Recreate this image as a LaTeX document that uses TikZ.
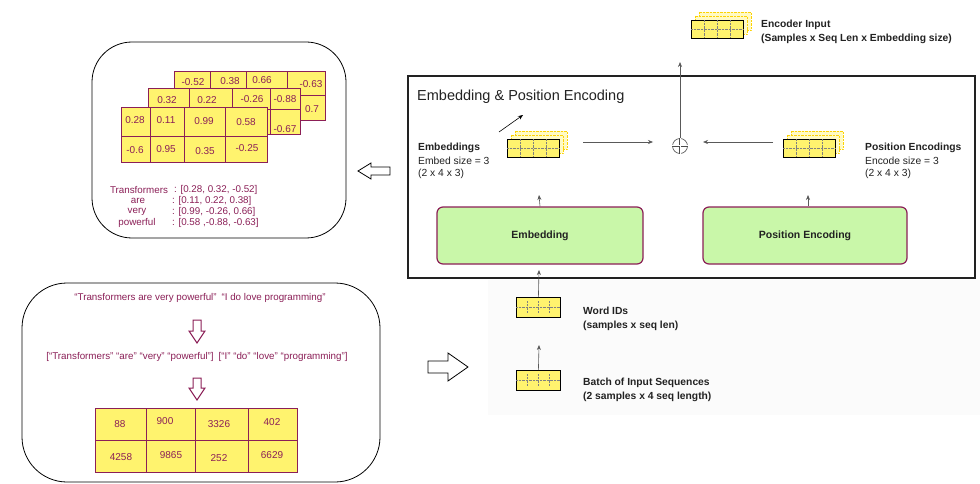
\documentclass[tikz,border=0pt]{standalone}
\usepackage{fontspec}
\setmainfont{Liberation Sans}
\usetikzlibrary{shapes.arrows,arrows.meta}
\definecolor{plum}{HTML}{8B1F57}
\definecolor{cellY}{HTML}{FFF36E}
\definecolor{grn}{HTML}{C9F7A9}
\definecolor{txt}{HTML}{222222}
\begin{document}
\begin{tikzpicture}[x=1pt,y=-1pt,
  cell/.style={draw=plum,fill=cellY,line width=1pt},
  num/.style={text=plum,font=\fontsize{10}{11}\selectfont,inner sep=0},
  ptxt/.style={text=plum,font=\fontsize{9.8}{11}\selectfont,inner sep=0},
  lbl/.style={text=txt,font=\fontsize{10.3}{12}\selectfont,anchor=west,inner sep=0,align=left},
  blbl/.style={lbl,font=\fontsize{10.3}{12}\selectfont\bfseries},
  arr/.style={draw=gray!70!black,-{Stealth[length=5pt,width=4pt]},line width=0.6pt},
  green/.style={draw=plum,fill=grn,rounded corners=6pt,line width=1.2pt,font=\fontsize{10.5}{12}\selectfont\bfseries,text=txt}]
\useasboundingbox (0,0) rectangle (980,484);
\fill[white] (0,0) rectangle (980,484);
\fill[gray!3] (488,280) rectangle (980,415);
% ---- top-left box
\draw[line width=0.8pt,rounded corners=40pt] (92,42) rectangle (346,238);
% back layer
\foreach \a/\b in {174/210,210/246,246/287,287/325}{\draw[cell] (\a,72) rectangle (\b,96); \draw[cell] (\a,96) rectangle (\b,121);}
\node[num] (b1) at (193,82) {-0.52};
\node[num] (b2) at (230,81) {0.38};
\node[num] (b3) at (262,80) {0.66};
\node[num] (b4) at (311,84) {-0.63};
\node[num] (b5) at (312,109) {0.7};
% middle layer
\foreach \a/\b in {148/189,189/232,232/270,270/300}{\draw[cell] (\a,89) rectangle (\b,110); \draw[cell] (\a,110) rectangle (\b,135);}
\node[num] (m1) at (167,100) {0.32};
\node[num] (m2) at (207,100) {0.22};
\node[num] (m3) at (252,99) {-0.26};
\node[num] (m4) at (285,99) {-0.88};
\node[num] (m5) at (285,129) {-0.67};
% front layer
\foreach \a/\b in {121/150,150/184,184/225,225/267}{\draw[cell] (\a,108) rectangle (\b,137); \draw[cell] (\a,137) rectangle (\b,163);}
\node[num] (f1) at (135,120) {0.28};
\node[num] (f2) at (166,120) {0.11};
\node[num] (f3) at (204,121) {0.99};
\node[num] (f4) at (246,122) {0.58};
\node[num] (f5) at (135,150) {-0.6};
\node[num] (f6) at (166,149) {0.95};
\node[num] (f7) at (205,151) {0.35};
\node[num] (f8) at (247,148) {-0.25};
\node[ptxt] (w1) at (139,190) {Transformers};
\node[ptxt] (w2) at (138,201) {are};
\node[ptxt] (w3) at (137,212) {very};
\node[ptxt] (w4) at (137,223) {powerful};
\node[ptxt,anchor=west] (v1) at (174,190) {: [0.28, 0.32, -0.52]};
\node[ptxt,anchor=west] (v2) at (172,201) {: [0.11, 0.22, 0.38]};
\node[ptxt,anchor=west] (v3) at (172,212) {: [0.99, -0.26, 0.66]};
\node[ptxt,anchor=west] (v4) at (172,223) {: [0.58 ,-0.88, -0.63]};
% left hollow arrow
\draw[line width=0.8pt,fill=white] (358,171) -- (371,163) -- (371,167) -- (390,167) -- (390,175) -- (371,175) -- (371,179) -- cycle;
% ---- bottom-left box
\draw[line width=0.8pt,rounded corners=45pt] (22,283) rectangle (380,482);
\node[ptxt] (s1) at (200,298) {“Transformers are very powerful”\enspace “I do love programming”};
\draw[draw=plum,line width=1pt,fill=white] (197,343) -- (189,331) -- (193,331) -- (193,320) -- (201,320) -- (201,331) -- (205,331) -- cycle;
\node[ptxt] (s2) at (197,357) {[“Transformers” “are” “very” “powerful”]\enspace [“I” “do” “love” “programming”]};
\draw[draw=plum,line width=1pt,fill=white] (197,400) -- (189,388) -- (193,388) -- (193,378) -- (201,378) -- (201,388) -- (205,388) -- cycle;
\foreach \a/\b in {95/146,146/195,195/248,248/297}{\draw[cell] (\a,408) rectangle (\b,440); \draw[cell] (\a,440) rectangle (\b,472);}
\node[num] (i1) at (120,424) {88};
\node[num] (i2) at (165,421) {900};
\node[num] (i3) at (219,424) {3326};
\node[num] (i4) at (272,422) {402};
\node[num] (i5) at (121,457) {4258};
\node[num] (i6) at (171,455) {9865};
\node[num] (i7) at (219,458) {252};
\node[num] (i8) at (272,455) {6629};
% right hollow arrow
\draw[line width=0.8pt,fill=white] (468,367) -- (448,353) -- (448,361) -- (428,361) -- (428,373) -- (448,373) -- (448,381) -- cycle;
% ---- main box
\draw[line width=1.2pt,draw=txt] (408,76) rectangle (975,278);
\node[anchor=west,inner sep=0,font=\fontsize{14.5}{16}\selectfont,text=txt] (title) at (417,97) {Embedding \& Position Encoding};
\node[green,minimum width=206pt,minimum height=57pt] (emb) at (540,235.5) {Embedding};
\node[green,minimum width=204pt,minimum height=57pt] (pe) at (805,235.5) {Position Encoding};
% icons
\newcommand\mystk[3]{%
 \foreach \o in {8,4}{\fill[cellY!40] (#1+\o,#2-\o) rectangle (#1+52+\o,#2+18-\o);
   \draw[yellow!70!orange,densely dotted] (#1+\o,#2-\o) rectangle (#1+52+\o,#2+18-\o);}
 \node[draw=black,fill=cellY,line width=0.8pt,minimum width=52pt,minimum height=18pt,anchor=north west,inner sep=0] (#3) at (#1,#2) {};
 \draw[densely dotted,gray] (#1,#2+9) -- (#1+52,#2+9);
 \foreach \c in {13,26,39}{\draw[densely dotted,gray] (#1+\c,#2) -- (#1+\c,#2+18);}}
\mystk{507}{139}{embI}
\mystk{783}{139}{posI}
\mystk{691}{20}{encI}
\newcommand\myflat[3]{%
 \node[draw=black,fill=cellY,line width=0.8pt,minimum width=44pt,minimum height=20pt,anchor=north west,inner sep=0] (#3) at (#1,#2) {};
 \draw[densely dotted,gray] (#1,#2+10) -- (#1+44,#2+10);
 \foreach \c in {11,22,33}{\draw[densely dotted,gray] (#1+\c,#2+4) -- (#1+\c,#2+16);}}
\myflat{516}{297}{wid}
\myflat{516}{370}{bat}
\node[draw=gray!60!black,circle,minimum size=15pt,inner sep=0,line width=0.6pt] (plus) at (680,146) {};
\draw[gray!60!black,line width=2.2pt] (plus.north) -- (plus.south) (plus.west) -- (plus.east);
\draw[white,line width=1pt] (plus.north) -- (plus.south) (plus.west) -- (plus.east);
\coordinate (e1) at (583,142); \coordinate (e2) at (653,142);
\coordinate (p1) at (773,142); \coordinate (p2) at (703,142);
\draw[arr] (e1) -- (e2);
\draw[arr] (p1) -- (p2);
\coordinate (up) at (680,62);
\draw[arr] (plus.north) -- (up);
\coordinate (da) at (499,132); \coordinate (db) at (523,115);
\draw[black,-{Stealth[length=5pt,width=4pt]},line width=0.6pt] (da) -- (db);
\coordinate (ea) at (539,195); \draw[arr] (emb.north) -- (ea);
\coordinate (pa) at (808,195); \draw[arr] (pe.north -| pa) -- (pa);
\coordinate (ia) at (539,270); \draw[arr] (wid.north) -- (ia);
\coordinate (ba) at (539,345); \draw[arr] (bat.north) -- (ba);
\node[blbl] (t1) at (418,148) {Embeddings};
\node[lbl] (t2) at (418,161) {Embed size = 3};
\node[lbl] (t3) at (418,174) {(2 x 4 x 3)};
\node[blbl] (t4) at (865,148) {Position Encodings};
\node[lbl] (t5) at (865,161) {Encode size = 3};
\node[lbl] (t6) at (865,174) {(2 x 4 x 3)};
\node[blbl] (t7) at (761,25) {Encoder Input};
\node[blbl] (t8) at (761,39) {(Samples x Seq Len x Embedding size)};
\node[blbl] (t9) at (583,311) {Word IDs};
\node[blbl] (t10) at (583,326) {(samples x seq len)};
\node[blbl] (t11) at (583,383) {Batch of Input Sequences};
\node[blbl] (t12) at (583,397) {(2 samples x 4 seq length)};
\end{tikzpicture}
\end{document}
